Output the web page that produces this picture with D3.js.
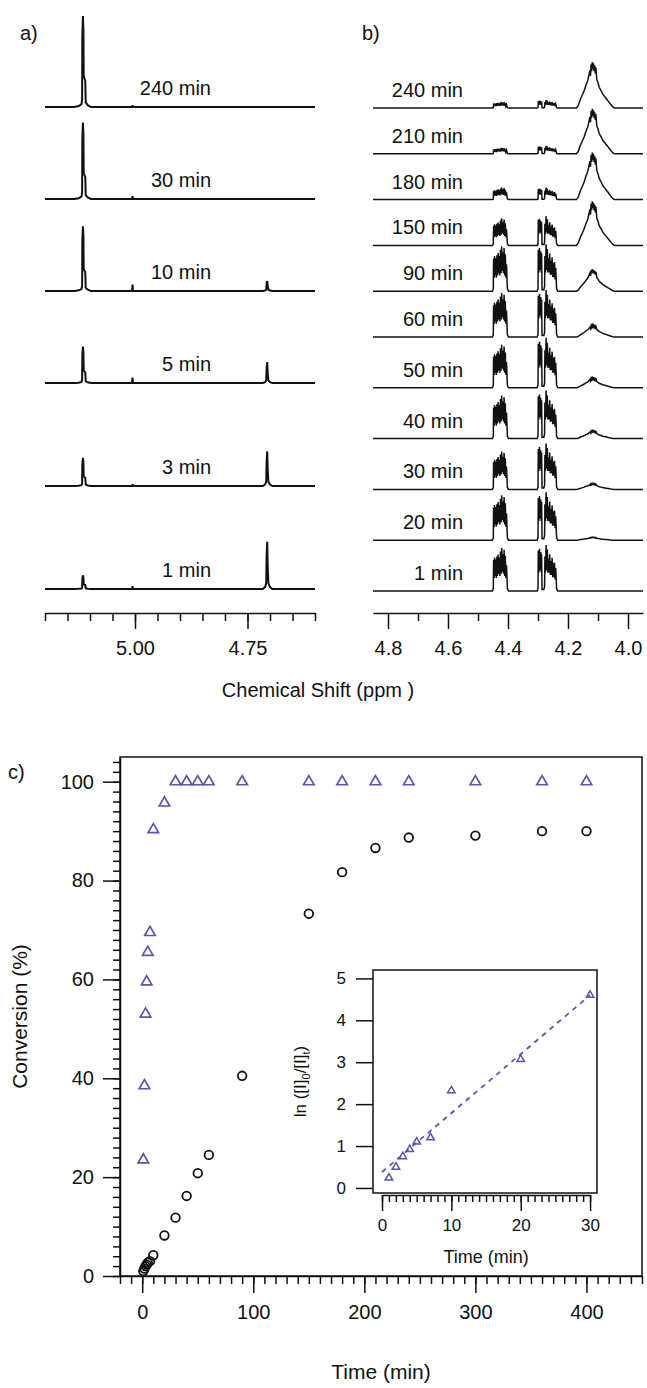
<!DOCTYPE html>
<html>
<head>
<meta charset="utf-8">
<script src="https://cdn.jsdelivr.net/npm/d3@7"></script>
<style>
  body { margin: 0; background: #fff; }
  svg { display: block; font-family: "Liberation Sans", Arial, Helvetica, sans-serif; }
  .axis path, .axis line { stroke: #111; stroke-width: 1.5; }
  .axis text { font-size: 20px; fill: #111; font-family: "Liberation Sans", Arial, sans-serif; }
  .lbl { font-size: 20px; fill: #111; }
</style>
</head>
<body>
<svg id="fig" width="647" height="1388"></svg>
<script>
// ---- panel a: 5.2 - 4.6 ppm region
const timesA = ['240 min', '30 min', '10 min', '5 min', '3 min', '1 min'];
const peak511 = [100, 84, 71, 40, 31, 15];   // signal at ~5.11 ppm
const peak471 = [0, 0, 11, 23, 38, 52];      // signal at ~4.71 ppm
const peak500 = [2, 3, 7, 6, 2, 3];          // small signal at 5.00 ppm
// line shapes: [ppm, relative height]
const shape511 = [[5.135, 0], [5.125, 0.01], [5.119, 0.03], [5.1175, 0.08], [5.117, 0.78], [5.1158, 1.0],
  [5.1146, 0.85], [5.114, 0.34], [5.112, 0.31], [5.1105, 0.29], [5.1095, 0.05], [5.105, 0.02], [5.098, 0]];
const shape471 = [[4.716, 0], [4.711, 0.04], [4.7085, 0.12], [4.7075, 0.72], [4.7062, 1.0], [4.705, 0.45],
  [4.7035, 0.12], [4.700, 0.04], [4.695, 0]];
const shape500 = [[5.0065, 0], [5.0055, 1], [5.0045, 0]];
const majorA = [5.00, 4.75];
const minorA = [5.20, 5.15, 5.10, 5.05, 5.00, 4.95, 4.90, 4.85, 4.80, 4.75, 4.70, 4.65, 4.60];

// ---- panel b: 4.85 - 3.95 ppm region
const timesB = ['240 min', '210 min', '180 min', '150 min', '90 min', '60 min', '50 min', '40 min', '30 min', '20 min', '1 min'];
const amp443 = [12, 12, 24, 54, 90, 88, 86, 86, 76, 90, 86];
const amp427 = [16, 16, 24, 58, 94, 94, 100, 96, 92, 96, 92];
const amp412 = [92, 90, 94, 88, 44, 24, 20, 16, 12, 6, 0];
const shape443 = [[4.452, 0], [4.449, 0.05], [4.448, 0.72], [4.446, 0.3], [4.445, 0.78], [4.443, 0.35], [4.441, 0.74],
  [4.439, 0.3], [4.437, 0.8], [4.435, 0.35], [4.433, 0.85], [4.431, 0.4], [4.429, 0.78], [4.427, 0.35], [4.425, 0.92],
  [4.423, 0.4], [4.421, 1.0], [4.419, 0.45], [4.417, 0.86], [4.415, 0.4], [4.413, 0.96], [4.411, 0.35], [4.409, 0.82],
  [4.407, 0.3], [4.405, 0.6], [4.402, 0.05], [4.398, 0]];
const shape427 = [[4.303, 0], [4.300, 0.05], [4.299, 0.88], [4.297, 0.4], [4.295, 0.92], [4.293, 0.45], [4.291, 0.85],
  [4.289, 0.4], [4.288, 0.8], [4.2865, 0.03], [4.2805, 0.03], [4.278, 0.1], [4.277, 0.75], [4.275, 0.4], [4.273, 1.0],
  [4.271, 0.45], [4.269, 0.9], [4.267, 0.4], [4.265, 0.7], [4.263, 0.4], [4.261, 0.8], [4.259, 0.35], [4.257, 0.65],
  [4.255, 0.35], [4.253, 0.72], [4.251, 0.3], [4.249, 0.6], [4.247, 0.3], [4.245, 0.62], [4.243, 0.25], [4.241, 0.5],
  [4.238, 0.05], [4.234, 0]];
const shape412 = [[4.172, 0], [4.166, 0.05], [4.158, 0.2], [4.151, 0.3], [4.146, 0.38], [4.140, 0.5], [4.134, 0.6],
  [4.130, 0.72], [4.127, 0.82], [4.125, 0.7], [4.123, 0.95], [4.121, 0.8], [4.119, 1.0], [4.117, 0.85], [4.115, 0.97],
  [4.113, 0.8], [4.111, 0.92], [4.109, 0.75], [4.107, 0.88], [4.104, 0.62], [4.100, 0.55], [4.096, 0.45], [4.090, 0.38],
  [4.084, 0.3], [4.078, 0.25], [4.072, 0.2], [4.066, 0.15], [4.058, 0.08], [4.050, 0.02], [4.045, 0]];
const majorB = [4.8, 4.6, 4.4, 4.2, 4.0];
const minorB = [4.7, 4.5, 4.3, 4.1];

// ---- panel c: conversion vs time
const timeTri = [1, 2, 3, 4, 5, 7, 10, 20, 30, 40, 50, 60, 90, 150, 180, 210, 240, 300, 360, 400];
const convTri = [23.5, 38.5, 53, 59.5, 65.5, 69.5, 90.3, 95.7, 100, 100, 100, 100, 100, 100, 100, 100, 100, 100, 100, 100];
const timeCirc = [1, 2, 3, 4, 5, 7, 10, 20, 30, 40, 50, 60, 90, 150, 180, 210, 240, 300, 360, 400];
const convCirc = [1.0, 1.5, 2.0, 2.3, 2.7, 3.0, 4.2, 8.2, 11.8, 16.2, 20.8, 24.5, 40.5, 73.3, 81.7, 86.6, 88.7, 89.1, 90.0, 90.0];
const cTicks = [0, 20, 40, 60, 80, 100];
const tTicks = [0, 100, 200, 300, 400];
// inset: first-order plot
const timeLn = [1, 2, 3, 4, 5, 7, 10, 20, 30];
const lnVal = [0.24, 0.5, 0.75, 0.92, 1.1, 1.2, 2.32, 3.07, 4.6];
const fitT = [0, 30];
const fitLn = [0.38, 4.6];
const lnTicks = [0, 1, 2, 3, 4, 5];
const tiTicks = [0, 10, 20, 30];

const blue = '#5757aa';
const svg = d3.select('#fig');

function spectrum(shapes, amps, domain) {
  const pts = [[domain[0], 0]];
  shapes.forEach((s, k) => {
    if (!amps[k]) return;
    s.forEach(([p, r]) => pts.push([p, r * amps[k]]));
  });
  pts.push([domain[1], 0]);
  return pts.sort((a, b) => b[0] - a[0]);
}

function ppmAxis(x, y, minor, major, fmt) {
  svg.append('g').attr('class', 'axis').attr('transform', `translate(0,${y})`)
    .call(d3.axisBottom(x).tickValues(minor).tickSize(8).tickSizeOuter(0).tickFormat(''));
  svg.append('g').attr('class', 'axis').attr('transform', `translate(0,${y})`)
    .call(d3.axisBottom(x).tickValues(major).tickSize(16).tickSizeOuter(0).tickPadding(12).tickFormat(fmt))
    .select('.domain').remove();
}

// ---------- a)
const xA = d3.scaleLinear().domain([5.2, 4.6]).range([45, 315]);
const hA = d3.scaleLinear().domain([0, 100]).range([0, 91]);
const rowA = d3.scaleLinear().domain([0, 3, 5]).range([107, 383, 589]);

timesA.forEach((t, i) => {
  const base = rowA(i);
  const pts = spectrum([shape511, shape500, shape471], [peak511[i], peak500[i], peak471[i]], xA.domain());
  svg.append('path')
    .attr('d', d3.line().x(d => xA(d[0])).y(d => base - hA(d[1]))(pts))
    .attr('fill', 'none').attr('stroke', '#111').attr('stroke-width', 2);
  svg.append('text').attr('class', 'lbl').attr('x', 211).attr('y', base - 12)
    .attr('text-anchor', 'end').text(t);
});
ppmAxis(xA, 613, minorA, majorA, d3.format('.2f'));

// ---------- b)
const xB = d3.scaleLinear().domain([4.85, 3.95]).range([373, 643]);
const hB = d3.scaleLinear().domain([0, 100]).range([0, 50]);
const rowB = d3.scaleLinear().domain([0, 5, 10]).range([108, 337, 591]);

timesB.forEach((t, i) => {
  const base = rowB(i);
  const pts = spectrum([shape443, shape427, shape412], [amp443[i], amp427[i], amp412[i]], xB.domain());
  svg.append('path')
    .attr('d', d3.line().x(d => xB(d[0])).y(d => base - hB(d[1]))(pts))
    .attr('fill', 'none').attr('stroke', '#111').attr('stroke-width', 1.5);
  svg.append('text').attr('class', 'lbl').attr('x', 463).attr('y', base - 11)
    .attr('text-anchor', 'end').text(t);
});
ppmAxis(xB, 613, minorB, majorB, d3.format('.1f'));

svg.append('text').attr('class', 'lbl').attr('x', 20).attr('y', 40).text('a)');
svg.append('text').attr('class', 'lbl').attr('x', 362).attr('y', 40).text('b)');
svg.append('text').attr('class', 'lbl').attr('x', 318).attr('y', 697).attr('text-anchor', 'middle')
  .text('Chemical Shift (ppm )');

// ---------- c)
const x = d3.scaleLinear().domain([-20, 450]).range([120, 642]);
const y = d3.scaleLinear().domain([0, 105]).range([1276, 757]);

svg.append('g').attr('class', 'axis').attr('transform', `translate(0,${y(0)})`)
  .call(d3.axisBottom(x).tickValues(d3.range(-20, 451, 10)).tickSize(8).tickSizeOuter(0).tickFormat(''));
svg.append('g').attr('class', 'axis').attr('transform', `translate(0,${y(0)})`)
  .call(d3.axisBottom(x).tickValues(tTicks).tickSize(17).tickSizeOuter(0).tickPadding(12))
  .select('.domain').remove();
svg.append('g').attr('class', 'axis').attr('transform', `translate(${x(-20)},0)`)
  .call(d3.axisLeft(y).tickValues(d3.range(0, 105, 2)).tickSize(7).tickSizeOuter(0).tickFormat(''));
svg.append('g').attr('class', 'axis').attr('transform', `translate(${x(-20)},0)`)
  .call(d3.axisLeft(y).tickValues(cTicks).tickSize(17).tickSizeOuter(0).tickPadding(9))
  .select('.domain').remove();
svg.append('rect')
  .attr('x', x(-20)).attr('y', y(105)).attr('width', x(450) - x(-20)).attr('height', y(0) - y(105))
  .attr('fill', 'none').attr('stroke', '#111').attr('stroke-width', 1.5);

const tri = d3.symbol(d3.symbolTriangle, 48);
svg.append('g').selectAll('path').data(timeTri).join('path')
  .attr('d', tri)
  .attr('transform', (d, i) => `translate(${x(d)},${y(convTri[i])})`)
  .attr('fill', 'none').attr('stroke', blue).attr('stroke-width', 1.7);
svg.append('g').selectAll('circle').data(timeCirc).join('circle')
  .attr('cx', d => x(d)).attr('cy', (d, i) => y(convCirc[i])).attr('r', 4.3)
  .attr('fill', 'none').attr('stroke', '#111').attr('stroke-width', 1.8);

svg.append('text').attr('class', 'lbl').attr('x', 8).attr('y', 779).text('c)');
svg.append('text').attr('class', 'lbl').attr('text-anchor', 'middle').style('font-size', '21px')
  .attr('transform', `translate(27,${(y(0) + y(105)) / 2}) rotate(-90)`).text('Conversion (%)');
svg.append('text').attr('class', 'lbl').attr('text-anchor', 'middle').style('font-size', '21px')
  .attr('x', (x(-20) + x(450)) / 2).attr('y', 1379).text('Time (min)');

// inset
const xi = d3.scaleLinear().domain([-1.3, 31]).range([373, 597]);
const yi = d3.scaleLinear().domain([-0.12, 5.2]).range([1193, 970]);
svg.append('rect')
  .attr('x', xi(-1.3)).attr('y', yi(5.2)).attr('width', xi(31) - xi(-1.3)).attr('height', yi(-0.12) - yi(5.2))
  .attr('fill', '#fff').attr('stroke', '#111').attr('stroke-width', 1.5);
const xiAxis = d3.scaleLinear().domain([0, 30]).range([xi(0), xi(30)]);
svg.append('g').attr('class', 'axis').attr('transform', `translate(0,${yi(-0.12) + 2})`)
  .call(d3.axisBottom(xiAxis).tickValues(d3.range(0, 31, 1)).tickSize(7).tickSizeOuter(0).tickFormat(''));
const inX2 = svg.append('g').attr('class', 'axis').attr('transform', `translate(0,${yi(-0.12) + 2})`)
  .call(d3.axisBottom(xiAxis).tickValues(tiTicks).tickSize(16).tickSizeOuter(0).tickPadding(8)
    .tickFormat(d3.format('d')));
inX2.select('.domain').remove();
inX2.selectAll('text').style('font-size', '17px');
const inY = svg.append('g').attr('class', 'axis').attr('transform', `translate(${xi(-1.3)},0)`)
  .call(d3.axisLeft(yi).tickValues(lnTicks).tickSize(17).tickSizeOuter(0).tickPadding(10)
    .tickFormat(d3.format('d')));
inY.select('.domain').remove();
inY.selectAll('text').style('font-size', '17px');

svg.append('path')
  .attr('d', d3.line().x(d => xi(d)).y((d, i) => yi(fitLn[i]))(fitT))
  .attr('stroke', blue).attr('stroke-width', 1.8).attr('stroke-dasharray', '5,5').attr('fill', 'none');
svg.append('g').selectAll('path').data(timeLn).join('path')
  .attr('d', d3.symbol(d3.symbolTriangle, 24))
  .attr('transform', (d, i) => `translate(${xi(d)},${yi(lnVal[i])})`)
  .attr('fill', 'none').attr('stroke', blue).attr('stroke-width', 1.5);

const il = svg.append('text').attr('text-anchor', 'middle').style('font-size', '17px').attr('fill', '#111')
  .attr('transform', `translate(306,${(yi(-0.12) + yi(5.2)) / 2}) rotate(-90)`);
il.append('tspan').text('ln ([I]');
il.append('tspan').attr('dy', 4).style('font-size', '11px').text('0');
il.append('tspan').attr('dy', -4).text('/[I]');
il.append('tspan').attr('dy', 4).style('font-size', '11px').text('t');
il.append('tspan').attr('dy', -4).text(')');
svg.append('text').attr('text-anchor', 'middle').style('font-size', '18px').attr('fill', '#111')
  .attr('x', (xi(0) + xi(30)) / 2).attr('y', 1263).text('Time (min)');
</script>
</body>
</html>
